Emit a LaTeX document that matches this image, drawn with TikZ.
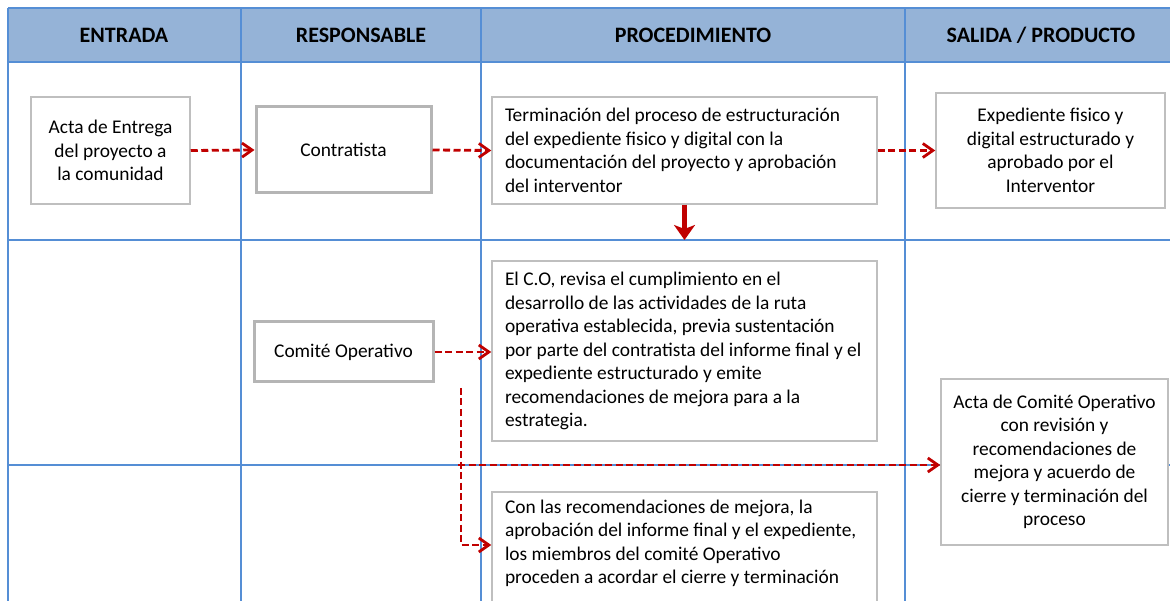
\documentclass[tikz,border=0pt]{standalone}
\usepackage{fontspec}
\setmainfont{Carlito}
\usetikzlibrary{arrows.meta}

\definecolor{gridblue}{RGB}{85,142,213}
\definecolor{headfill}{RGB}{149,179,215}
\definecolor{flowred}{RGB}{192,0,0}
\definecolor{boxgray}{RGB}{191,191,191}

\begin{document}
\begin{tikzpicture}[x=1pt,y=-1pt,
  box/.style={draw=boxgray,line width=1.5pt,fill=white,inner sep=0pt,align=center,
              font=\fontsize{19.4}{23.5}\selectfont},
  textbox/.style={box,align=flush left,text width=359,inner xsep=13pt},
  rolebox/.style={box,line width=3pt,draw=boxgray!95!black},
  headtext/.style={font=\fontsize{22}{26}\selectfont\bfseries},
  flow/.style={draw=flowred,line width=2.8pt,dash pattern=on 7pt off 3.5pt,
               -{Straight Barb[length=10pt,width=14pt]}}]

  \useasboundingbox (0,0) rectangle (1170,601);
  \clip (0,0) rectangle (1170,601);

% header band
  \fill[headfill] (8,8) rectangle (1170,62);
  \node[headtext] (hin)   at (124,35)  {ENTRADA};
  \node[headtext] (hresp) at (361,35)  {RESPONSABLE};
  \node[headtext] (hproc) at (693,35)  {PROCEDIMIENTO};
  \node[headtext] (hout)  at (1041,35) {SALIDA / PRODUCTO};

% table lines
  \foreach \y in {8,62,240,465}
    \draw[gridblue,line width=2pt] (8,\y) -- (1170,\y);
  \foreach \x in {8,241,481,905}
    \draw[gridblue,line width=2pt] (\x,8) -- (\x,601);

% first row
  \node[box,minimum width=159,minimum height=107] (acta) at (110.5,150.5)
       {Acta de Entrega\\del proyecto a\\la comunidad};
  \node[rolebox,minimum width=175,minimum height=86] (contr) at (343.5,150) {Contratista};
  \node[textbox,minimum height=107] (term) at (684.5,150.5)
       {Terminación del proceso de estructuración\\del expediente fisico y digital con la\\documentación del proyecto y aprobación\\del interventor};
  \node[box,minimum width=229,minimum height=115] (expd) at (1050.5,150.5)
       {Expediente fisico y\\digital estructurado y\\aprobado por el\\Interventor};

% second and third row
  \node[rolebox,minimum width=179,minimum height=60] (comite) at (343.5,352) {Comité Operativo};
  \node[textbox,minimum height=180] (revisa) at (684.5,351)
       {El C.O, revisa el cumplimiento en el\\desarrollo de las actividades de la ruta\\operativa establecida, previa sustentación\\por parte del contratista del informe final y el\\expediente estructurado y emite\\recomendaciones de mejora para a la\\estrategia.};
  \node[box,minimum width=227,minimum height=166] (actaco) at (1054.5,462)
       {Acta de Comité Operativo\\con revisión y\\recomendaciones de\\mejora y acuerdo de\\cierre y terminación del\\proceso};
  \node[textbox,inner ysep=8pt,anchor=north] (cierre) at (684.5,491)
       {Con las recomendaciones de mejora, la\\aprobación del informe final y el expediente,\\los miembros del comité Operativo\\proceden a acordar el cierre y terminación\\ \mbox{}};

% connectors
  \coordinate (rowtwo) at (683,240);
  \coordinate (split)  at (461,388);
  \coordinate (fork)   at (461,465);
  \coordinate (bend)   at (461,545);

  \draw[flow] (acta.east)  -- (contr.west);
  \draw[flow] (contr.east) -- (term.west);
  \draw[flow] (term.east)  -- (expd.west);
  \draw[flowred,line width=5pt,-{Stealth[length=15pt,width=21pt,inset=4pt]}]
       (term.south) -- (term.south |- rowtwo);
  \draw[flow] (comite.east) -- (comite.east -| revisa.west);
  \draw[flow] (split) -- (bend) -- (bend -| cierre.west);
  \draw[flow] ([xshift=-3pt]fork) -- (fork -| actaco.west);

\end{tikzpicture}
\end{document}
